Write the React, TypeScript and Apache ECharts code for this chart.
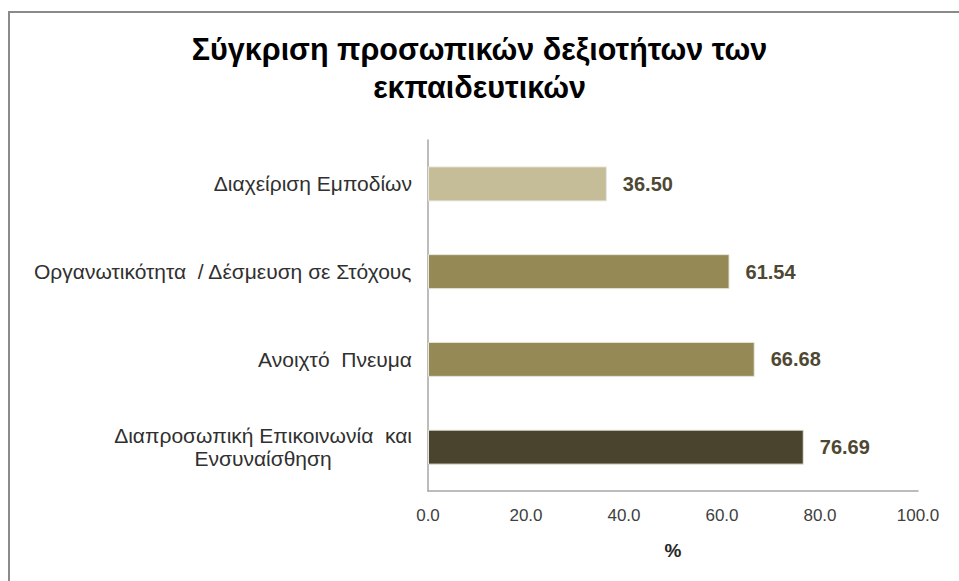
import React, { useEffect, useRef } from "react";
import * as echarts from "echarts";

const categories = [
  "Διαχείριση Εμποδίων",
  "Οργανωτικότητα  / Δέσμευση σε Στόχους",
  "Ανοιχτό  Πνευμα",
  "Διαπροσωπική Επικοινωνία  και\nΕνσυναίσθηση",
];
const values = [36.5, 61.54, 66.68, 76.69];
const barColors = ["#C5BD98", "#958A55", "#958A55", "#4A432D"];
const xTicks = [0, 20, 40, 60, 80, 100];

export default function App() {
  const ref = useRef<HTMLDivElement>(null);
  useEffect(() => {
    if (!ref.current) return;
    const chart = echarts.init(ref.current, null, { renderer: "svg" });
    chart.setOption({
      animation: false,
      backgroundColor: "#ffffff",
      title: {
        text: "Σύγκριση προσωπικών δεξιοτήτων των\nεκπαιδευτικών",
        left: "center",
        top: 25,
        textStyle: {
          fontFamily: "Liberation Sans, Arial, sans-serif",
          fontWeight: "bold",
          fontSize: 30.5,
          lineHeight: 38,
          color: "#000000",
        },
      },
      graphic: [
        {
          type: "rect",
          shape: { x: 9, y: 12, width: 1200, height: 1200 },
          style: { fill: "none", stroke: "#8a8a8a", lineWidth: 2 },
          silent: true,
        },
      ],
      grid: { left: 428, right: 41, top: 140, bottom: 90, containLabel: false },
      xAxis: {
        type: "value",
        min: xTicks[0],
        max: xTicks[xTicks.length - 1],
        interval: 20,
        axisLine: { show: true, lineStyle: { color: "#a6a6a6", width: 1.5 } },
        axisTick: { show: false },
        splitLine: { show: false },
        axisLabel: {
          margin: 16,
          fontFamily: "Liberation Sans, Arial, sans-serif",
          fontSize: 17,
          color: "#404040",
          formatter: (v: number) => v.toFixed(1),
        },
        name: "%",
        nameLocation: "middle",
        nameGap: 50,
        nameTextStyle: {
          fontFamily: "Liberation Sans, Arial, sans-serif",
          fontWeight: "bold",
          fontSize: 19,
          color: "#262626",
        },
      },
      yAxis: {
        type: "category",
        inverse: true,
        data: categories,
        axisLine: { show: true, lineStyle: { color: "#a6a6a6", width: 1.5 } },
        axisTick: { show: false },
        axisLabel: {
          margin: 16,
          fontFamily: "Liberation Sans, Arial, sans-serif",
          fontSize: 21,
          color: "#303030",
          formatter: (v: string) =>
            v
              .split("\n")
              .map((s) => "{c|" + s + "}")
              .join("\n"),
          rich: {
            c: {
              align: "center",
              fontFamily: "Liberation Sans, Arial, sans-serif",
              fontSize: 21,
              color: "#303030",
              lineHeight: 23,
            },
          },
        },
      },
      series: [
        {
          type: "bar",
          data: values.map((v, i) => ({
            value: v,
            itemStyle: { color: barColors[i] },
          })),
          barWidth: 35,
          itemStyle: { borderColor: "#e8e6dc", borderWidth: 1 },
          label: {
            show: true,
            position: "right",
            distance: 16,
            fontFamily: "Liberation Sans, Arial, sans-serif",
            fontWeight: "bold",
            fontSize: 20,
            color: "#4E4832",
            formatter: (p: any) => Number(p.value).toFixed(2),
          },
        },
      ],
    });
    return () => chart.dispose();
  }, []);
  return (
    <div
      ref={ref}
      style={{ position: "absolute", left: 0, top: 0, width: 959, height: 581 }}
    />
  );
}
